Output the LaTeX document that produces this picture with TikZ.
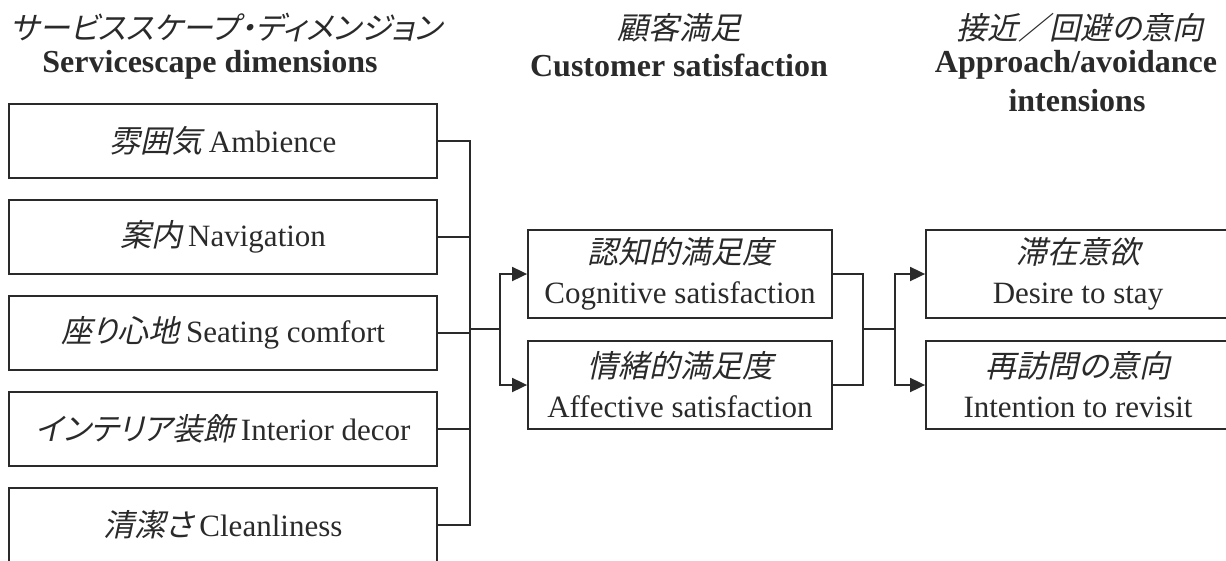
\documentclass[tikz,border=0pt]{standalone}
\usepackage{fontspec}
\setmainfont{Liberation Serif}
\newfontfamily\jp[FakeSlant=0.22,RawFeature=+palt]{Noto Sans CJK JP}
\usetikzlibrary{arrows.meta}
\definecolor{ink}{HTML}{2A2A2A}
\newcommand{\jgap}{\hspace{0.2em}}
\tikzset{
  boxbase/.style={draw=ink, line width=1.8pt, inner sep=0pt, text=ink,
    font=\fontsize{31}{40}\selectfont, align=center},
  lbox/.style={boxbase, minimum width=428pt, minimum height=74pt},
  mbox/.style={boxbase, minimum width=304pt, minimum height=88pt},
  head/.style={text=ink, inner sep=0pt, font=\fontsize{31}{36}\selectfont},
  headb/.style={text=ink, inner sep=0pt, font=\fontsize{32}{36}\selectfont\bfseries},
  conn/.style={draw=ink, line width=1.8pt, line join=miter},
  arr/.style={conn, -{Triangle[length=15pt,width=14pt]}}
}
\begin{document}
\begin{tikzpicture}[x=1pt,y=-1pt]
\useasboundingbox (0,0) rectangle (1226,560);
% headers
\node[head] (h1j) at (226,28) {\jp サービススケープ・ディメンジョン};
\node[headb] (h1e) at (210,65) {Servicescape dimensions};
\node[head] (h2j) at (679,28) {\jp 顧客満足};
\node[headb] (h2e) at (679,65) {Customer satisfaction};
\node[head] (h3j) at (1080,28) {\jp 接近／回避の意向};
\node[headb] (h3e) at (1076,65) {Approach/avoidance};
\node[headb] (h3f) at (1077,101) {intensions};
% left boxes
\node[lbox] (a1) at (223,141) {{\jp 雰囲気}\jgap Ambience};
\node[lbox] (a2) at (223,237) {{\jp 案内}\jgap Navigation};
\node[lbox] (a3) at (223,333) {{\jp 座り心地}\jgap Seating comfort};
\node[lbox] (a4) at (223,429) {{\jp インテリア装飾}\jgap Interior decor};
\node[lbox] (a5) at (223,525) {{\jp 清潔さ}\jgap Cleanliness};
% middle boxes
\node[mbox] (m1) at (680,274) {{\jp 認知的満足度}\\Cognitive satisfaction};
\node[mbox] (m2) at (680,385) {{\jp 情緒的満足度}\\Affective satisfaction};
% right boxes
\node[mbox] (r1) at (1078,274) {{\jp 滞在意欲}\\Desire to stay};
\node[mbox] (r2) at (1078,385) {{\jp 再訪問の意向}\\Intention to revisit};
% junctions
\coordinate (j1) at (470,329);
\coordinate (s1) at (500,329);
\coordinate (j2) at (863,329);
\coordinate (s2) at (895,329);
% connectors
\foreach \n in {a1,a2,a3,a4,a5} \draw[conn] (\n.east) -| (j1);
\draw[conn] (j1) -- (s1);
\draw[arr] (s1) |- (m1.west);
\draw[arr] (s1) |- (m2.west);
\draw[conn] (m1.east) -| (j2);
\draw[conn] (m2.east) -| (j2);
\draw[conn] (j2) -- (s2);
\draw[arr] (s2) |- (r1.west);
\draw[arr] (s2) |- (r2.west);
\end{tikzpicture}
\end{document}
